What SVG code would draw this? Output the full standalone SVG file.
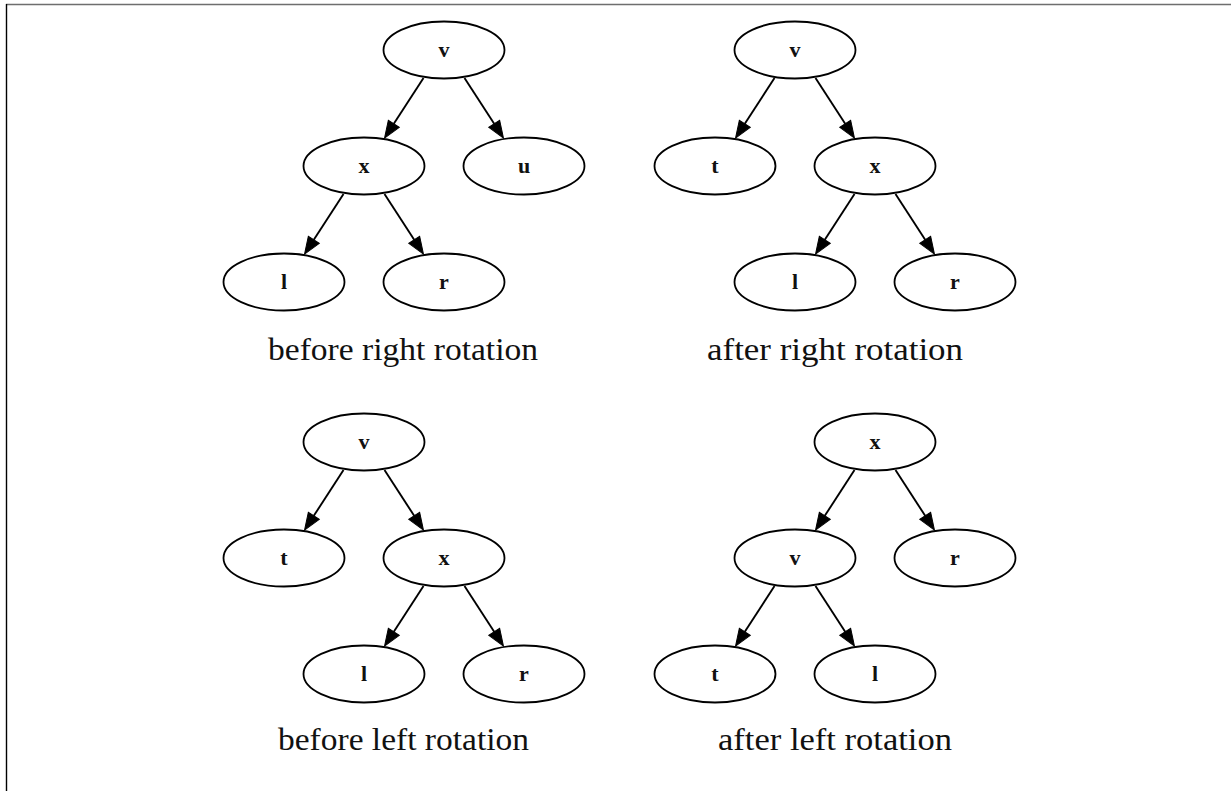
<svg xmlns="http://www.w3.org/2000/svg" width="1231" height="791" viewBox="0 0 1231 791">
  <style>
    .node ellipse { fill: #ffffff; stroke: #000000; stroke-width: 1.8; }
    .node text { font-family: "Liberation Serif", "DejaVu Serif", serif; font-size: 22px; font-weight: bold; text-anchor: middle; fill: #111111; }
    .edge { fill: none; stroke: #000000; stroke-width: 1.9; marker-end: url(#arrow); }
    .caption { font-family: "Liberation Serif", "DejaVu Serif", serif; font-size: 32px; text-anchor: middle; fill: #111111; }
  </style>
  <defs>
    <marker id="arrow" markerUnits="userSpaceOnUse" markerWidth="20" markerHeight="16" refX="0" refY="6.5" orient="auto" overflow="visible">
      <path d="M0,0 L17,6.5 L0,13 Z" fill="#000000" stroke="#000000" stroke-width="1"/>
    </marker>
  </defs>

  <rect x="0" y="0" width="1231" height="791" fill="#ffffff"/>
  <!-- frame -->
  <line x1="6" y1="4.5" x2="1231" y2="4.5" stroke="#6e6e6e" stroke-width="1.6"/>
  <line x1="6.5" y1="4" x2="6.5" y2="791" stroke="#000000" stroke-width="1.4"/>

  <!-- connectors -->
  <g id="connectors">
    <path class="edge" d="M423.5,78 L393.8,123.8"/>
    <path class="edge" d="M464.5,78 L494.2,123.8"/>
    <path class="edge" d="M343.5,194 L313.8,239.8"/>
    <path class="edge" d="M384.5,194 L414.2,239.8"/>

    <path class="edge" d="M774.5,78 L744.8,123.8"/>
    <path class="edge" d="M815.5,78 L845.2,123.8"/>
    <path class="edge" d="M854.5,194 L824.8,239.8"/>
    <path class="edge" d="M895.5,194 L925.2,239.8"/>

    <path class="edge" d="M343.5,470 L313.8,515.8"/>
    <path class="edge" d="M384.5,470 L414.2,515.8"/>
    <path class="edge" d="M423.5,586 L393.8,631.8"/>
    <path class="edge" d="M464.5,586 L494.2,631.8"/>

    <path class="edge" d="M854.5,470 L824.8,515.8"/>
    <path class="edge" d="M895.5,470 L925.2,515.8"/>
    <path class="edge" d="M774.5,586 L744.8,631.8"/>
    <path class="edge" d="M815.5,586 L845.2,631.8"/>
  </g>

  <!-- before right rotation -->
  <g id="t1-v" class="node"><ellipse cx="444" cy="50" rx="60.5" ry="28.5"/><text x="444" y="57">v</text></g>
  <g id="t1-x" class="node"><ellipse cx="364" cy="166" rx="60.5" ry="28.5"/><text x="364" y="173">x</text></g>
  <g id="t1-u" class="node"><ellipse cx="524" cy="166" rx="60.5" ry="28.5"/><text x="524" y="173">u</text></g>
  <g id="t1-l" class="node"><ellipse cx="284" cy="282" rx="60.5" ry="28.5"/><text x="284" y="289">l</text></g>
  <g id="t1-r" class="node"><ellipse cx="444" cy="282" rx="60.5" ry="28.5"/><text x="444" y="289">r</text></g>
  <text class="caption" x="403" y="360" textLength="270" lengthAdjust="spacingAndGlyphs">before right rotation</text>

  <!-- after right rotation -->
  <g id="t2-v" class="node"><ellipse cx="795" cy="50" rx="60.5" ry="28.5"/><text x="795" y="57">v</text></g>
  <g id="t2-t" class="node"><ellipse cx="715" cy="166" rx="60.5" ry="28.5"/><text x="715" y="173">t</text></g>
  <g id="t2-x" class="node"><ellipse cx="875" cy="166" rx="60.5" ry="28.5"/><text x="875" y="173">x</text></g>
  <g id="t2-l" class="node"><ellipse cx="795" cy="282" rx="60.5" ry="28.5"/><text x="795" y="289">l</text></g>
  <g id="t2-r" class="node"><ellipse cx="955" cy="282" rx="60.5" ry="28.5"/><text x="955" y="289">r</text></g>
  <text class="caption" x="835" y="360" textLength="256" lengthAdjust="spacingAndGlyphs">after right rotation</text>

  <!-- before left rotation -->
  <g id="t3-v" class="node"><ellipse cx="364" cy="442" rx="60.5" ry="28.5"/><text x="364" y="449">v</text></g>
  <g id="t3-t" class="node"><ellipse cx="284" cy="558" rx="60.5" ry="28.5"/><text x="284" y="565">t</text></g>
  <g id="t3-x" class="node"><ellipse cx="444" cy="558" rx="60.5" ry="28.5"/><text x="444" y="565">x</text></g>
  <g id="t3-l" class="node"><ellipse cx="364" cy="674" rx="60.5" ry="28.5"/><text x="364" y="681">l</text></g>
  <g id="t3-r" class="node"><ellipse cx="524" cy="674" rx="60.5" ry="28.5"/><text x="524" y="681">r</text></g>
  <text class="caption" x="403.5" y="750" textLength="251" lengthAdjust="spacingAndGlyphs">before left rotation</text>

  <!-- after left rotation -->
  <g id="t4-x" class="node"><ellipse cx="875" cy="442" rx="60.5" ry="28.5"/><text x="875" y="449">x</text></g>
  <g id="t4-v" class="node"><ellipse cx="795" cy="558" rx="60.5" ry="28.5"/><text x="795" y="565">v</text></g>
  <g id="t4-r" class="node"><ellipse cx="955" cy="558" rx="60.5" ry="28.5"/><text x="955" y="565">r</text></g>
  <g id="t4-t" class="node"><ellipse cx="715" cy="674" rx="60.5" ry="28.5"/><text x="715" y="681">t</text></g>
  <g id="t4-l" class="node"><ellipse cx="875" cy="674" rx="60.5" ry="28.5"/><text x="875" y="681">l</text></g>
  <text class="caption" x="835" y="750" textLength="234" lengthAdjust="spacingAndGlyphs">after left rotation</text>
</svg>
